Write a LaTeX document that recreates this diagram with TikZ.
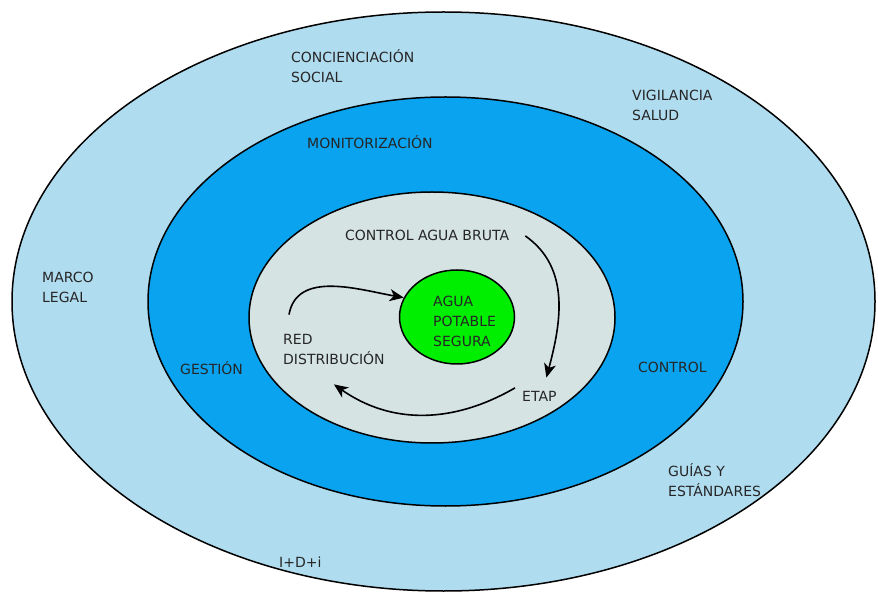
\documentclass[tikz,border=0pt]{standalone}
\usepackage{fontspec}
\setmainfont{DejaVu Sans}
\usetikzlibrary{shapes.geometric,arrows.meta}
\definecolor{ringout}{HTML}{B0DCF0}
\definecolor{ringmid}{HTML}{0AA3EF}
\definecolor{ringin}{HTML}{D5E3E3}
\definecolor{coregreen}{HTML}{00EE00}
\definecolor{txt}{HTML}{262626}

\begin{document}
\begin{tikzpicture}[x=1pt, y=-1pt,
  lbl/.style={inner sep=0pt, text=txt, align=left, font=\fontsize{14}{20}\selectfont},
  ring/.style={ellipse, draw, line width=1.5pt, inner sep=0pt},
  flow/.style={line width=1.6pt, -{Stealth[length=14pt,width=12pt,inset=4pt]}}]
  \useasboundingbox (0,0) rectangle (878,593);

  % rings
  \node[ring, fill=ringout, minimum width=863pt, minimum height=579pt] (outer) at (443.5,301.5) {};
  \node[ring, fill=ringmid, minimum width=595pt, minimum height=409pt] (middle) at (445.5,301.5) {};
  \node[ring, fill=ringin, minimum width=366pt, minimum height=251pt] (inner) at (432,317.5) {};
  \node[ring, fill=coregreen, minimum width=115pt, minimum height=94pt] (core) at (457,317) {};

  % outer ring
  \node[lbl, anchor=west] (social) at (291,66) {CONCIENCIACIÓN\\SOCIAL};
  \node[lbl, anchor=west] (salud) at (632,105) {VIGILANCIA\\SALUD};
  \node[lbl, anchor=west] (legal) at (42,287.5) {MARCO\\LEGAL};
  \node[lbl, anchor=west] (guias) at (668,480.5) {GUÍAS Y\\ESTÁNDARES};
  \node[lbl, anchor=base west] (idi) at (279,567) {I+D+i};

  % middle ring
  \node[lbl, anchor=base west] (monit) at (307,149) {MONITORIZACIÓN};
  \node[lbl, anchor=base west] (gestion) at (180,375) {GESTIÓN};
  \node[lbl, anchor=base west] (control) at (638,373) {CONTROL};

  % inner ring
  \node[lbl, anchor=base west] (bruta) at (345,241) {CONTROL AGUA BRUTA};
  \node[lbl, anchor=base west] (etap) at (522,402) {ETAP};
  \node[lbl, anchor=west] (red) at (283,349) {RED\\DISTRIBUCIÓN};
  \node[lbl, anchor=west] (agua) at (433,321.5) {AGUA\\POTABLE\\SEGURA};

  \draw[flow] ([xshift=16pt]bruta.east) to[out=-35,in=75] ([shift={(7pt,14pt)}]etap.north);
  \draw[flow] ([shift={(-7pt,9pt)}]etap.west) to[out=-150,in=-35] ([yshift=-20pt]red.south);
  \draw[flow] ([shift={(6pt,19pt)}]red.north west) to[out=80,in=170] (core.160);
\end{tikzpicture}
\end{document}
